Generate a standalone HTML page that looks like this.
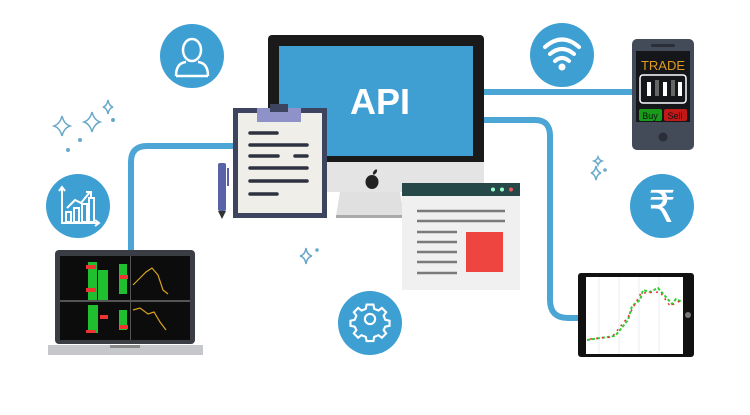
<!DOCTYPE html>
<html><head><meta charset="utf-8"><style>
html,body{margin:0;padding:0;background:#fff;width:750px;height:415px;overflow:hidden}
svg{display:block}
</style></head><body>
<svg width="750" height="415" viewBox="0 0 750 415" xmlns="http://www.w3.org/2000/svg" font-family="Liberation Sans, sans-serif">
<g fill="none" stroke="#4ba6d6" stroke-width="6">
<path d="M131 252 V162 Q131 146 147 146 H240"/>
<path d="M480 92 H634"/>
<path d="M480 120 H535 Q550 120 550 136 V300 Q550 318 568 318 H582"/>
</g>
<g fill="#3e9fd3">
<circle cx="192" cy="56" r="32"/>
<circle cx="78" cy="206" r="32"/>
<circle cx="562" cy="55" r="32"/>
<circle cx="662" cy="206" r="32"/>
<circle cx="370" cy="323" r="32"/>
</g>
<g fill="none" stroke="#fff" stroke-width="2.5">
<ellipse cx="192" cy="50" rx="9" ry="11"/>
<path d="M176 76 Q176 63 186 62 M208 76 Q208 63 198 62 M176 76 H208"/>
</g>
<g fill="none" stroke="#fff" stroke-width="2">
<path d="M62 188 V223 H98"/><path d="M59 191 L62 187 L65 191 M95 220 L99 223 L95 226"/>
<rect x="66" y="212" width="5" height="10"/><rect x="74" y="208" width="5" height="14"/><rect x="82" y="204" width="5" height="18"/><rect x="89" y="198" width="5" height="24"/>
<path d="M67 208 L75 200 L81 203 L90 192 M86 192 H91 V197"/>
</g>
<g fill="none" stroke="#fff" stroke-width="4" stroke-linecap="round">
<path d="M545 47 Q562 32 579 47"/><path d="M550 54 Q562 44 574 54"/><path d="M555 61 Q562 55 569 61"/>
</g>
<circle cx="562" cy="67" r="3.5" fill="#fff"/>
<text x="662" y="222" font-size="44" fill="#fff" text-anchor="middle" font-family="DejaVu Sans, sans-serif">₹</text>
<g fill="none" stroke="#fff" stroke-width="2.5" transform="translate(370,319) scale(0.85) translate(-370,-319)">
<circle cx="370" cy="323" r="6" transform="translate(0,-4)"/>
<path d="M366 306 H374 L375 311 L380 313 L384 310 L389 315 L386 319 L388 324 L393 325 V331 L388 332 L386 336 L389 340 L384 345 L380 342 L375 344 L374 349 H366 L365 344 L360 342 L356 345 L351 340 L354 336 L352 332 L347 331 V325 L352 324 L354 319 L351 315 L356 310 L360 313 L365 311 Z" transform="translate(0,-4)"/>
</g>
<g fill="none" stroke="#6aa9c9" stroke-width="1.5">
<path d="M62 116 Q64 124 70 126 Q64 128 62 136 Q60 128 54 126 Q60 124 62 116Z"/>
<path d="M92 112 Q94 120 100 122 Q94 124 92 132 Q90 124 84 122 Q90 120 92 112Z"/>
<path d="M108 100 Q109 106 113 107 Q109 108 108 114 Q107 108 103 107 Q107 106 108 100Z"/>
<path d="M306 248 Q307 255 312 256 Q307 257 306 264 Q305 257 300 256 Q305 255 306 248Z"/>
<path d="M596 166 Q597 172 601 173 Q597 174 596 180 Q595 174 591 173 Q595 172 596 166Z"/>
<path d="M598 157 Q599 160 602 161 Q599 162 598 165 Q597 162 594 161 Q597 160 598 157Z"/>
</g>
<g fill="#6aa9c9"><circle cx="80" cy="140" r="2"/><circle cx="113" cy="120" r="2"/><circle cx="68" cy="150" r="2"/><circle cx="317" cy="250" r="1.8"/><circle cx="605" cy="170" r="1.8"/></g>
<rect x="268" y="35" width="216" height="132" rx="4" fill="#1a1a1a"/>
<rect x="279" y="46" width="194" height="110" fill="#3f9fd3"/>
<text x="380" y="114" font-size="36" font-weight="bold" fill="#fff" text-anchor="middle">API</text>
<rect x="268" y="162" width="216" height="30" fill="#e4e4e4"/>
<path d="M340 192 H400 L404 216 H336 Z" fill="#e0e0e0"/>
<rect x="336" y="215" width="70" height="3" fill="#aaa"/>
<ellipse cx="372" cy="182" rx="6.5" ry="7" fill="#222"/>
<ellipse cx="375" cy="172" rx="1.5" ry="3" fill="#222" transform="rotate(35 375 172)"/>
<rect x="233" y="108" width="94" height="110" fill="#3d4460"/>
<rect x="238" y="113" width="84" height="100" fill="#efeee9"/>
<rect x="257" y="108" width="44" height="14" fill="#8f92c8"/>
<rect x="270" y="104" width="18" height="8" fill="#3d4460"/>
<g stroke="#2e3240" stroke-width="3.5" stroke-linecap="round">
<path d="M250 133 H277"/><path d="M250 145 H307"/><path d="M250 156 H278"/><path d="M295 156 H307"/><path d="M250 168 H307"/><path d="M250 181 H307"/><path d="M250 194 H277"/>
</g>
<rect x="218" y="163" width="8" height="48" rx="2" fill="#5a63a8"/>
<path d="M218 211 L222 219 L226 211Z" fill="#333"/>
<rect x="227" y="168" width="2" height="18" fill="#5a63a8"/>
<rect x="402" y="183" width="118" height="107" fill="#f0f0f0"/>
<rect x="402" y="183" width="118" height="13" fill="#264848"/>
<circle cx="493" cy="189.5" r="2" fill="#9fc"/><circle cx="502" cy="189.5" r="2" fill="#9fc"/><circle cx="511" cy="189.5" r="2" fill="#e55"/>
<g stroke="#7a7a7a" stroke-width="2.5">
<path d="M417 211 H505"/><path d="M417 221 H505"/><path d="M417 232 H457"/><path d="M417 242 H457"/><path d="M417 252 H457"/><path d="M417 262 H457"/><path d="M417 273 H457"/>
</g>
<rect x="466" y="232" width="37" height="40" fill="#ee4540"/>
<rect x="632" y="39" width="62" height="111" rx="5" fill="#434a58"/>
<rect x="651" y="44" width="24" height="3" rx="1.5" fill="#2a2e38"/>
<rect x="636" y="51" width="54" height="71" fill="#14161a"/>
<text x="663" y="70" font-size="13" fill="#e09b20" text-anchor="middle">TRADE</text>
<rect x="640" y="75" width="46" height="28" rx="3" fill="none" stroke="#fff" stroke-width="1.5"/>
<g fill="#fff"><rect x="647" y="82" width="4" height="14"/><rect x="655" y="80" width="4" height="16" fill="#666"/><rect x="663" y="82" width="4" height="14"/><rect x="671" y="80" width="4" height="16" fill="#666"/><rect x="678" y="82" width="4" height="14"/></g>
<rect x="639" y="109" width="23" height="12" rx="2" fill="#1a9a1a"/>
<rect x="664" y="109" width="23" height="12" rx="2" fill="#c21818"/>
<text x="650" y="119" font-size="9" fill="#111" text-anchor="middle">Buy</text>
<text x="675" y="119" font-size="9" fill="#111" text-anchor="middle">Sell</text>
<circle cx="663" cy="137" r="4.5" fill="#2a2e38"/>
<rect x="578" y="273" width="116" height="84" rx="3" fill="#111"/>
<rect x="586" y="277" width="97" height="77" fill="#fff"/>
<circle cx="688" cy="315" r="3" fill="#777"/>
<g stroke="#e8eef5" stroke-width="1"><path d="M599 277 V354 M619 277 V354 M639 277 V354 M659 277 V354"/></g>
<polyline points="587,340 600,338 615,336 620,330 628,320 632,306 640,300 643,290 650,292 658,288 665,296 672,304 676,299 682,302" fill="none" stroke="#3c3" stroke-width="2" stroke-dasharray="3 2"/>
<polyline points="590,339 612,337 628,317 641,293 660,292 670,306 682,300" fill="none" stroke="#e33" stroke-width="1.5" stroke-dasharray="2 4"/>
<rect x="55" y="250" width="140" height="94" rx="4" fill="#3a3d44"/>
<rect x="60" y="256" width="130" height="84" fill="#0c0c0c"/>
<g fill="#1fbf2f"><rect x="88" y="262" width="9" height="40"/><rect x="98" y="270" width="10" height="30"/><rect x="119" y="264" width="8" height="30"/><rect x="88" y="305" width="10" height="28"/><rect x="119" y="310" width="8" height="20"/></g>
<g fill="#e33"><rect x="86" y="265" width="10" height="4"/><rect x="120" y="275" width="8" height="4"/><rect x="86" y="288" width="10" height="4"/><rect x="100" y="315" width="8" height="4"/><rect x="120" y="325" width="8" height="4"/><rect x="86" y="330" width="10" height="3"/></g>
<rect x="60" y="300" width="130" height="2" fill="#555"/>
<rect x="130" y="256" width="1" height="84" fill="#555"/>
<polyline points="133,285 140,278 146,272 152,268 158,275 163,290 168,294" fill="none" stroke="#d9a320" stroke-width="1.2"/>
<polyline points="133,310 140,308 148,314 154,312 160,322 166,330" fill="none" stroke="#d9a320" stroke-width="1.2"/>
<rect x="48" y="345" width="155" height="10" fill="#c5c7cb"/>
<rect x="110" y="345" width="30" height="3" fill="#888"/>
</svg>
</body></html>
